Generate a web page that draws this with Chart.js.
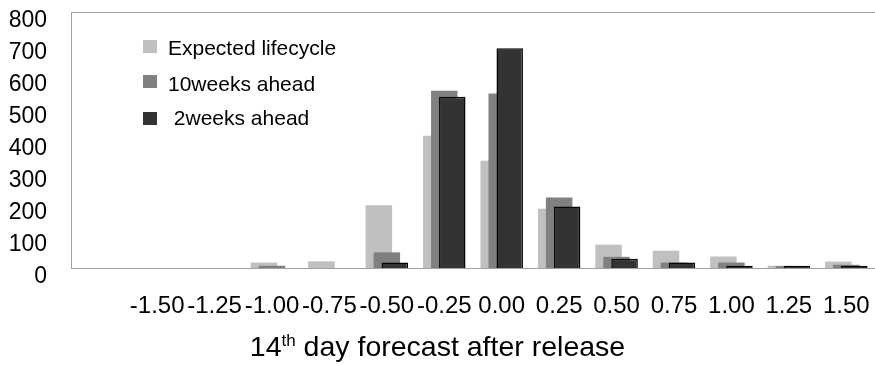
<!DOCTYPE html>
<html>
<head>
<meta charset="utf-8">
<script src="https://cdn.jsdelivr.net/npm/chart.js@4"></script>
<style>
  html, body { margin: 0; padding: 0; background: #fff; overflow: hidden; }
  #wrap { width: 875px; height: 365px; }
</style>
</head>
<body>
<div id="wrap"><canvas id="forecastChart"></canvas></div>
<script>
// forecast error buckets (first slot left empty, as in the source sheet)
let bucketLabels = ['', '-1.50', '-1.25', '-1.00', '-0.75', '-0.50', '-0.25', '0.00', '0.25', '0.50', '0.75', '1.00', '1.25', '1.50'];
let expectedLifecycle = [null, 0, 0, 17, 21, 196, 413, 335, 185, 73, 54, 36, 7, 20];
let tenWeeksAhead = [null, 0, 0, 7, 0, 49, 554, 545, 220, 35, 17, 17, 6, 10];
let twoWeeksAhead = [null, 0, 0, 0, 0, 17, 535, 687, 192, 29, 17, 7, 7, 7];
let yTicks = [0, 100, 200, 300, 400, 500, 600, 700, 800];

const FONT = '"Liberation Sans", Arial, sans-serif';
const AXIS_GRAY = '#a0a0a0';

function noPadding(scale) {
    scale.paddingTop = 0;
    scale.paddingBottom = 0;
    scale.paddingLeft = 0;
    scale.paddingRight = 0;
}

// draw datasets first-to-last so the later series sits on top
const drawInOrder = {
    id: 'drawInOrder',
    beforeDatasetsDraw(chart) {
        chart.getSortedVisibleDatasetMetas().forEach(m => m.controller.draw());
        return false;
    }
};

// plot frame top line + legend box inside the plot + axis title
const extras = {
    id: 'extras',
    afterDraw(chart) {
        let ctx = chart.ctx;
        let a = chart.chartArea;
        ctx.save();
        ctx.strokeStyle = AXIS_GRAY;
        ctx.lineWidth = 1;
        ctx.beginPath();
        ctx.moveTo(a.left, a.top + 0.5);
        ctx.lineTo(a.right, a.top + 0.5);
        ctx.stroke();

        // legend
        let boxRows = [28, 63, 100];
        let textRows = [37, 73, 107];
        ctx.font = '21px ' + FONT;
        ctx.textBaseline = 'middle';
        chart.data.datasets.forEach((ds, i) => {
            ctx.fillStyle = ds.backgroundColor;
            ctx.fillRect(a.left + 72, a.top + boxRows[i], 14, 13);
            ctx.fillStyle = '#000';
            ctx.fillText(ds.label, a.left + 97, a.top + textRows[i]);
        });

        // x axis title with superscript
        let cx = chart.width / 2;
        let base = 356;
        let big = '28.5px ' + FONT, small = '17px ' + FONT;
        ctx.textBaseline = 'alphabetic';
        ctx.font = big;
        let w1 = ctx.measureText('14').width;
        let w3 = ctx.measureText(' day forecast after release').width;
        ctx.font = small;
        let w2 = ctx.measureText('th').width;
        let x = cx - (w1 + w2 + w3) / 2;
        ctx.fillStyle = '#000';
        ctx.font = big;
        ctx.fillText('14', x, base);
        ctx.font = small;
        ctx.fillText('th', x + w1, base - 10);
        ctx.font = big;
        ctx.fillText(' day forecast after release', x + w1 + w2, base);
        ctx.restore();
    }
};

new Chart(document.getElementById('forecastChart'), {
    type: 'bar',
    data: {
        labels: bucketLabels,
        datasets: [{
            label: 'Expected lifecycle',
            data: expectedLifecycle,
            backgroundColor: '#c0c0c0',
            borderWidth: 0
        }, {
            label: '10weeks ahead',
            data: tenWeeksAhead,
            backgroundColor: '#808080',
            borderWidth: 0
        }, {
            label: ' 2weeks ahead',
            data: twoWeeksAhead,
            backgroundColor: '#333333',
            borderColor: '#050505',
            borderWidth: 1.5
        }]
    },
    options: {
        responsive: true,
        maintainAspectRatio: false,
        animation: false,
        devicePixelRatio: 1,
        categoryPercentage: 0.418,
        barPercentage: 3.31,
        layout: { padding: { top: 12, right: 0, left: 0, bottom: 0 } },
        plugins: {
            legend: { display: false },
            tooltip: { enabled: false }
        },
        scales: {
            x: {
                grid: { display: false },
                border: { display: true, color: AXIS_GRAY, width: 1 },
                ticks: {
                    color: '#000',
                    font: { family: FONT, size: 24 },
                    padding: 16,
                    maxRotation: 0,
                    autoSkip: false
                },
                afterFit(scale) {
                    scale.height = 97;
                    noPadding(scale);
                }
            },
            y: {
                min: 0,
                max: 800,
                grid: { display: false },
                border: { display: true, color: AXIS_GRAY, width: 1 },
                afterBuildTicks(scale) { scale.ticks = yTicks.map(v => ({ value: v })); },
                ticks: {
                    color: '#000',
                    font: { family: FONT, size: 23 },
                    padding: 16,
                    labelOffset: 9
                },
                afterFit(scale) {
                    scale.width = 71;
                    noPadding(scale);
                }
            }
        }
    },
    plugins: [drawInOrder, extras]
});
</script>
</body>
</html>
